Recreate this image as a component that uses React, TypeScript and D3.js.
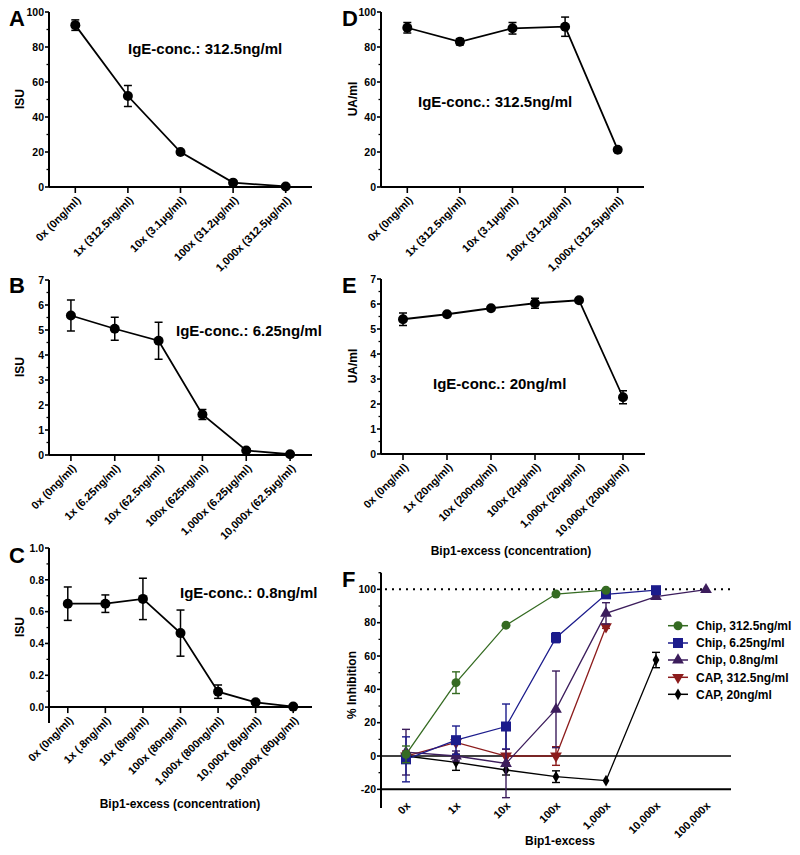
import React from "react";
import * as d3 from "d3";

const FONT = "'Liberation Sans', Arial, Helvetica, sans-serif";

// ---------- data ----------
const catsA = ["0x (0ng/ml)", "1x (312.5ng/ml)", "10x (3.1μg/ml)", "100x (31.2μg/ml)", "1,000x (312.5μg/ml)"];
const valsA = [92.5, 52, 20, 2.5, 0.3];
const errA = [3, 6, 0.8, 0.8, 0.3];

const catsB = ["0x (0ng/ml)", "1x (6.25ng/ml)", "10x (62.5ng/ml)", "100x (625ng/ml)", "1,000x (6.25μg/ml)", "10,000x (62.5μg/ml)"];
const valsB = [5.58, 5.05, 4.57, 1.62, 0.18, 0.03];
const errB = [0.62, 0.46, 0.74, 0.2, 0.05, 0.02];

const catsC = ["0x (0ng/ml)", "1x (.8ng/ml)", "10x (8ng/ml)", "100x (80ng/ml)", "1,000x (800ng/ml)", "10,000x (8μg/ml)", "100,000x (80μg/ml)"];
const valsC = [0.65, 0.65, 0.68, 0.465, 0.097, 0.03, 0.003];
const errC = [0.105, 0.055, 0.13, 0.145, 0.042, 0.01, 0.003];

const catsD = ["0x (0ng/ml)", "1x (312.5ng/ml)", "10x (3.1μg/ml)", "100x (31.2μg/ml)", "1,000x (312.5μg/ml)"];
const valsD = [91, 83, 90.7, 91.6, 21.3];
const errD = [3, 1.8, 3.3, 5.5, 0.5];

const catsE = ["0x (0ng/ml)", "1x (20ng/ml)", "10x (200ng/ml)", "100x (2μg/ml)", "1,000x (20μg/ml)", "10,000x (200μg/ml)"];
const valsE = [5.39, 5.59, 5.83, 6.03, 6.15, 2.27];
const errE = [0.25, 0.05, 0.05, 0.2, 0.05, 0.26];

const catsF = ["0x", "1x", "10x", "100x", "1,000x", "10,000x", "100,000x"];
const chip312 = [1, 44, 78.5, 97.2, 99.5];
const chip312Err = [5, 6.5, 0.8, 0.8, 0.5];
const chip625 = [-2, 9.5, 17.7, 71, 97, 99.5];
const chip625Err = [13.5, 8.5, 13.5, 3, 1, 0.5];
const chip08 = [2.3, 0, -4.5, 28, 85.6, 95.6, 99.8];
const chip08Err = [13.7, 3, 20.5, 23, 6.4, 1, 0.5];
const cap312 = [0, 8.2, 0, 0, 77.6];
const cap312Err = [3, 1, 4, 5.6, 1];
const cap20 = [0, -3.8, -8.4, -12.4, -14.8, 57.6];
const cap20Err = [2, 4.8, 3, 3.5, 0.5, 4.6];

const seriesNames = ["Chip, 312.5ng/ml", "Chip, 6.25ng/ml", "Chip, 0.8ng/ml", "CAP, 312.5ng/ml", "CAP, 20ng/ml"];
const seriesColors = ["#356b22", "#1c1c8c", "#3c1d5c", "#8c1c1c", "#000000"];
const seriesShapes = ["circle", "square", "triUp", "triDown", "diamond"];

// ---------- helpers ----------
function Marker({ shape, x, y, color, scale = 1 }: any) {
  if (shape === "circle") return <circle cx={x} cy={y} r={4.5 * scale} fill={color} />;
  if (shape === "square") return <rect x={x - 5 * scale} y={y - 5 * scale} width={10 * scale} height={10 * scale} fill={color} />;
  let path = "";
  if (shape === "triUp" || shape === "triDown") path = d3.symbol().type(d3.symbolTriangle).size(60 * scale * scale)() as string;
  if (shape === "diamond") path = d3.symbol().type(d3.symbolDiamond).size(40 * scale * scale)() as string;
  const rot = shape === "triDown" ? " rotate(180)" : "";
  return <path d={path} transform={`translate(${x},${y})${rot}`} fill={color} />;
}

function ErrorBar({ x, y1, y2, color, w = 4, sw = 1.5 }: any) {
  return (
    <g stroke={color} strokeWidth={sw}>
      <line x1={x} x2={x} y1={y1} y2={y2} />
      <line x1={x - w} x2={x + w} y1={y1} y2={y1} />
      <line x1={x - w} x2={x + w} y1={y2} y2={y2} />
    </g>
  );
}

function YAxis({ y, xPos, majors, minors, fmt, top, bottom }: any) {
  return (
    <g>
      <line x1={xPos} x2={xPos} y1={top} y2={bottom} stroke="#000" strokeWidth={2} />
      {majors.map((t: number) => (
        <g key={"M" + t}>
          <line x1={xPos - 4} x2={xPos} y1={y(t)} y2={y(t)} stroke="#000" strokeWidth={1.6} />
          <text x={xPos - 5} y={y(t)} dy="0.36em" textAnchor="end" fontSize={10.5} fontWeight="bold" fontFamily={FONT}>
            {fmt(t)}
          </text>
        </g>
      ))}
      {minors.map((t: number) => (
        <line key={"m" + t} x1={xPos - 2.5} x2={xPos} y1={y(t)} y2={y(t)} stroke="#000" strokeWidth={1.3} />
      ))}
    </g>
  );
}

function Panel(p: any) {
  const x = d3.scalePoint<string>().domain(p.cats).range([p.x0, p.x1]).padding(0.5);
  const y = d3.scaleLinear().domain(p.yDomain).range(p.yRange);
  const y0 = y(0);
  const line = d3
    .line<number>()
    .x((_, i) => x(p.cats[i]) as number)
    .y((d) => y(d));
  return (
    <g>
      <text x={p.letterX} y={p.letterY} fontSize={22} fontWeight="bold" fontFamily={FONT}>
        {p.letter}
      </text>
      <YAxis y={y} xPos={p.x0} majors={p.majors} minors={p.minors} fmt={p.fmt} top={p.yRange[1]} bottom={p.yRange[0]} />
      <line x1={p.x0} x2={p.x1} y1={y0} y2={y0} stroke="#000" strokeWidth={2} />
      {p.cats.map((c: string) => (
        <g key={c}>
          <line x1={x(c)} x2={x(c)} y1={y0} y2={y0 + 6} stroke="#000" strokeWidth={1.6} />
          <text
            transform={`translate(${(x(c) as number) + 6},${y0 + 14}) rotate(-45)`}
            textAnchor="end"
            fontSize={11}
            fontWeight="bold"
            fontFamily={FONT}
          >
            {c}
          </text>
        </g>
      ))}
      <text
        transform={`translate(${p.yTitleX},${p.yTitleY}) rotate(-90)`}
        textAnchor="middle"
        fontSize={12}
        fontWeight="bold"
        fontFamily={FONT}
      >
        {p.yTitle}
      </text>
      <path d={line(p.vals) as string} fill="none" stroke="#000" strokeWidth={1.8} />
      {p.vals.map((v: number, i: number) =>
        p.errs[i] > 0 ? (
          <ErrorBar key={"e" + i} x={x(p.cats[i])} y1={y(v + p.errs[i])} y2={y(v - p.errs[i])} color="#000" />
        ) : null
      )}
      {p.vals.map((v: number, i: number) => (
        <circle key={"c" + i} cx={x(p.cats[i])} cy={y(v)} r={5} fill="#000" />
      ))}
      <text x={p.noteX} y={p.noteY} fontSize={15} fontWeight="bold" fontFamily={FONT}>
        {p.note}
      </text>
      {p.xTitle ? (
        <text x={p.xTitleX} y={p.xTitleY} textAnchor="middle" fontSize={12} fontWeight="bold" fontFamily={FONT}>
          {p.xTitle}
        </text>
      ) : null}
    </g>
  );
}

function PanelF() {
  const x0 = 381;
  const x1 = 731;
  const x = d3.scalePoint<string>().domain(catsF).range([x0, x1]).padding(0.5);
  const y = d3.scaleLinear().domain([-30, 110]).range([806, 572.7]);
  const all = [chip312, chip625, chip08, cap312, cap20];
  const allErr = [chip312Err, chip625Err, chip08Err, cap312Err, cap20Err];
  const majors = [-20, 0, 20, 40, 60, 80, 100];
  const minors = [-10, 10, 30, 50, 70, 90, 110];
  const line = d3
    .line<number>()
    .x((_, i) => x(catsF[i]) as number)
    .y((d) => y(d));
  const order = [4, 3, 2, 1, 0];
  const legY = [625.7, 643, 660, 677.3, 694.3];
  return (
    <g>
      <text x={342} y={587} fontSize={22} fontWeight="bold" fontFamily={FONT}>
        F
      </text>
      <YAxis y={y} xPos={x0} majors={majors} minors={minors} fmt={(d: number) => String(d)} top={572.7} bottom={808} />
      <line x1={x0} x2={x1} y1={y(-20)} y2={y(-20)} stroke="#000" strokeWidth={2} />
      <line x1={x0} x2={x1} y1={y(0)} y2={y(0)} stroke="#000" strokeWidth={1.4} />
      <line x1={x0 + 4} x2={x1} y1={y(100)} y2={y(100)} stroke="#000" strokeWidth={2} strokeDasharray="2,5" />
      {catsF.map((c) => (
        <text
          key={c}
          transform={`translate(${(x(c) as number) + 5},${y(-20) + 17}) rotate(-45)`}
          textAnchor="end"
          fontSize={11}
          fontWeight="bold"
          fontFamily={FONT}
        >
          {c}
        </text>
      ))}
      <text transform={`translate(356,685) rotate(-90)`} textAnchor="middle" fontSize={12} fontWeight="bold" fontFamily={FONT}>
        % Inhibition
      </text>
      <text x={560} y={845} textAnchor="middle" fontSize={12} fontWeight="bold" fontFamily={FONT}>
        Bip1-excess
      </text>
      {order.map((k) => (
        <g key={k}>
          <path d={line(all[k]) as string} fill="none" stroke={seriesColors[k]} strokeWidth={1.3} />
          {all[k].map((v, i) =>
            allErr[k][i] > 0.9 ? (
              <ErrorBar
                key={"e" + i}
                x={x(catsF[i])}
                y1={y(v + allErr[k][i])}
                y2={y(v - allErr[k][i])}
                color={seriesColors[k]}
                sw={1.4}
              />
            ) : null
          )}
          {all[k].map((v, i) => (
            <Marker key={"m" + i} shape={seriesShapes[k]} x={x(catsF[i])} y={y(v)} color={seriesColors[k]} />
          ))}
        </g>
      ))}
      {seriesNames.map((n, k) => (
        <g key={n}>
          <line x1={668} x2={688} y1={legY[k]} y2={legY[k]} stroke={seriesColors[k]} strokeWidth={1.5} />
          <Marker shape={seriesShapes[k]} x={678} y={legY[k]} color={seriesColors[k]} />
          <text x={696} y={legY[k]} dy="0.36em" fontSize={12} fontWeight="bold" fontFamily={FONT}>
            {n}
          </text>
        </g>
      ))}
    </g>
  );
}

const r10 = (a: number, b: number, s: number) => d3.range(a, b + s / 2, s).map((v) => Math.round(v * 1000) / 1000);

export default function App() {
  return (
    <svg width={800} height={855} style={{ position: "absolute", left: 0, top: 0, background: "#fff" }}>
      <rect width={800} height={855} fill="#fff" />
      <Panel
        letter="A" letterX={9} letterY={26}
        cats={catsA} vals={valsA} errs={errA}
        x0={49} x1={312} yDomain={[0, 100]} yRange={[187, 12]}
        majors={r10(0, 100, 20)} minors={r10(10, 90, 20)} fmt={(d: number) => String(d)}
        yTitle="ISU" yTitleX={24} yTitleY={99}
        note="IgE-conc.: 312.5ng/ml" noteX={128} noteY={54}
      />
      <Panel
        letter="B" letterX={9} letterY={293}
        cats={catsB} vals={valsB} errs={errB}
        x0={49} x1={312} yDomain={[0, 7]} yRange={[455, 280]}
        majors={r10(0, 7, 1)} minors={r10(0.5, 6.5, 1)} fmt={(d: number) => String(d)}
        yTitle="ISU" yTitleX={24} yTitleY={367}
        note="IgE-conc.: 6.25ng/ml" noteX={176} noteY={336}
      />
      <Panel
        letter="C" letterX={9} letterY={563}
        cats={catsC} vals={valsC} errs={errC}
        x0={49} x1={312} yDomain={[-0.1, 1.0]} yRange={[723, 548]}
        majors={r10(0, 1, 0.2)} minors={r10(0.1, 0.9, 0.2)} fmt={d3.format(".1f")}
        yTitle="ISU" yTitleX={24} yTitleY={627}
        note="IgE-conc.: 0.8ng/ml" noteX={180} noteY={598}
        xTitle="Bip1-excess (concentration)" xTitleX={180} xTitleY={808}
      />
      <Panel
        letter="D" letterX={342} letterY={26}
        cats={catsD} vals={valsD} errs={errD}
        x0={381} x1={644} yDomain={[0, 100]} yRange={[187, 12]}
        majors={r10(0, 100, 20)} minors={r10(10, 90, 20)} fmt={(d: number) => String(d)}
        yTitle="UA/ml" yTitleX={357} yTitleY={99}
        note="IgE-conc.: 312.5ng/ml" noteX={418} noteY={107}
      />
      <Panel
        letter="E" letterX={342} letterY={293}
        cats={catsE} vals={valsE} errs={errE}
        x0={381} x1={645} yDomain={[0, 7]} yRange={[454, 279]}
        majors={r10(0, 7, 1)} minors={r10(0.5, 6.5, 1)} fmt={(d: number) => String(d)}
        yTitle="UA/ml" yTitleX={357} yTitleY={366}
        note="IgE-conc.: 20ng/ml" noteX={433} noteY={389}
        xTitle="Bip1-excess (concentration)" xTitleX={511} xTitleY={555}
      />
      <PanelF />
    </svg>
  );
}
